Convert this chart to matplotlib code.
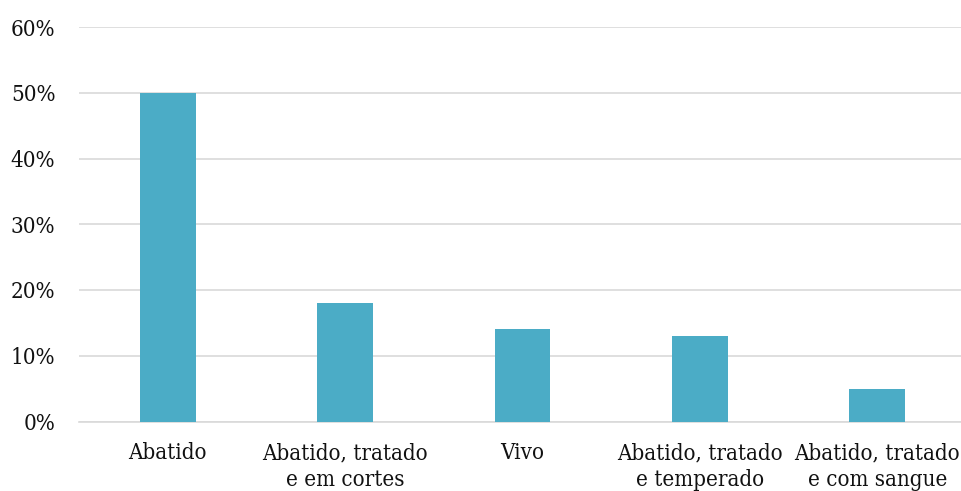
import matplotlib.pyplot as plt
import numpy as np

categories = ["Abatido", "Abatido, tratado\ne em cortes", "Vivo",
              "Abatido, tratado\ne temperado", "Abatido, tratado\ne com sangue"]
values = [50, 18, 14, 13, 5]
yticks = [0, 10, 20, 30, 40, 50, 60]

plt.rcParams['font.family'] = ['DejaVu Serif']
plt.rcParams['font.stretch'] = 'condensed'

fig = plt.figure(figsize=(9.61, 4.91), dpi=100)
ax = fig.add_axes([79 / 961, 1 - 421.5 / 491, 887 / 961, 394.5 / 491])

x = np.arange(len(categories))
ax.bar(x, values, width=0.315, color="#4BACC6", zorder=3)

ax.set_xlim(-0.5, len(categories) - 0.5)
ax.set_ylim(0, 60)
ax.set_yticks(yticks)
ax.set_yticklabels([f"{v}%" for v in yticks], fontsize=16, color="#111111")
ax.set_xticks(x)
ax.set_xticklabels(categories, fontsize=16, color="#111111", linespacing=1.27)

ax.grid(axis="y", color="#d9d9d9", linewidth=1.2, zorder=0)
ax.tick_params(length=0)
ax.tick_params(axis="x", pad=15)
ax.tick_params(axis="y", pad=17)
for s in ["top", "right", "left"]:
    ax.spines[s].set_visible(False)
ax.spines["bottom"].set_color("#d9d9d9")
ax.spines["bottom"].set_linewidth(1.2)

fig.savefig("out.png", dpi=100)
